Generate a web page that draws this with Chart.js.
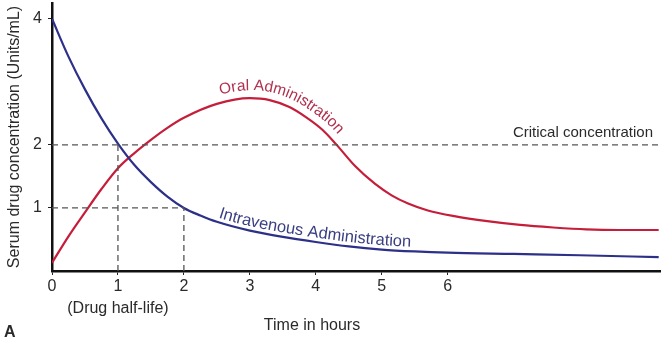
<!DOCTYPE html>
<html>
<head>
<meta charset="utf-8">
<script src="https://cdn.jsdelivr.net/npm/chart.js@4/dist/chart.umd.min.js"></script>
<style>
  html, body { margin: 0; padding: 0; background: #fff; }
  #wrap { width: 667px; height: 359px; }
</style>
</head>
<body>
<div id="wrap"><canvas id="chart" width="667" height="359"></canvas></div>
<script>
// values (hours, Units/mL)
const ivHours   = [0, 0.25, 0.5, 0.75, 1, 1.25, 1.5, 1.75, 2, 2.25, 2.5, 3, 3.5, 4, 4.5, 5, 5.5, 6, 7, 8, 9.2];
const ivValues  = [4, 3.4, 2.88, 2.42, 2.02, 1.68, 1.41, 1.18, 1.0, 0.88, 0.78, 0.64, 0.54, 0.46, 0.39, 0.34, 0.31, 0.29, 0.27, 0.25, 0.22];
const oralHours  = [0, 0.25, 0.5, 0.75, 1, 1.25, 1.5, 1.75, 2, 2.5, 3, 3.3, 3.6, 3.85, 4.1, 4.3, 4.6, 4.9, 5.15, 5.4, 5.7, 6.1, 6.6, 7.1, 7.6, 8.1, 8.6, 9.2];
const oralValues = [0.13, 0.55, 0.93, 1.3, 1.63, 1.87, 2.08, 2.27, 2.43, 2.65, 2.74, 2.71, 2.6, 2.44, 2.24, 2.02, 1.66, 1.38, 1.2, 1.07, 0.96, 0.87, 0.79, 0.73, 0.69, 0.66, 0.65, 0.65];

const xTickValues = [0, 1, 2, 3, 4, 5, 6];
const yTickValues = [1, 2, 4];
const criticalLevel = 2;
const halfLevel = 1;
const halfLifeHours = [1, 2];
const xMax = 9.22;
const yMax = 4.25;

const FONT = '"Liberation Sans", Arial, Helvetica, sans-serif';
const RED = '#c41e3a';
const BLUE = '#2c3088';
const DASH = '#555';

const toPts = (xs, ys) => xs.map((x, i) => ({ x: x, y: ys[i] }));

const refLine = (pts) => ({
  data: pts,
  borderColor: DASH,
  borderWidth: 1.3,
  borderDash: [6, 4],
  pointRadius: 0,
  tension: 0,
  fill: false
});

// sample the drawn bezier of a line dataset, then offset it along its normal
function offsetPath(chart, idx, offset) {
  const pts = chart.getDatasetMeta(idx).data;
  const dense = [];
  for (let i = 0; i < pts.length - 1; i++) {
    const a = pts[i], b = pts[i + 1];
    const c1x = a.cp2x ?? a.x, c1y = a.cp2y ?? a.y;
    const c2x = b.cp1x ?? b.x, c2y = b.cp1y ?? b.y;
    for (let k = 0; k < 12; k++) {
      const t = k / 12, u = 1 - t;
      dense.push({
        x: u*u*u*a.x + 3*u*u*t*c1x + 3*u*t*t*c2x + t*t*t*b.x,
        y: u*u*u*a.y + 3*u*u*t*c1y + 3*u*t*t*c2y + t*t*t*b.y
      });
    }
  }
  dense.push({ x: pts[pts.length - 1].x, y: pts[pts.length - 1].y });
  const out = dense.map((p, i) => {
    const p0 = dense[Math.max(0, i - 2)], p1 = dense[Math.min(dense.length - 1, i + 2)];
    let dx = p1.x - p0.x, dy = p1.y - p0.y;
    const len = Math.hypot(dx, dy) || 1;
    dx /= len; dy /= len;
    return { x: p.x + dy * offset, y: p.y - dx * offset };
  });
  let s = 0;
  out.forEach((p, i) => {
    if (i > 0) s += Math.hypot(p.x - out[i - 1].x, p.y - out[i - 1].y);
    p.s = s;
  });
  return out;
}

function pointAt(path, s) {
  for (let i = 1; i < path.length; i++) {
    if (path[i].s >= s) {
      const a = path[i - 1], b = path[i];
      const t = (s - a.s) / ((b.s - a.s) || 1);
      return { x: a.x + (b.x - a.x) * t, y: a.y + (b.y - a.y) * t, ang: Math.atan2(b.y - a.y, b.x - a.x) };
    }
  }
  const a = path[path.length - 2], b = path[path.length - 1];
  return { x: b.x, y: b.y, ang: Math.atan2(b.y - a.y, b.x - a.x) };
}

function textOnCurve(ctx, path, text, startX, font, color) {
  let s0 = 0;
  for (const p of path) { if (p.x >= startX) { s0 = p.s; break; } }
  ctx.save();
  ctx.font = font;
  ctx.fillStyle = color;
  ctx.textAlign = 'center';
  ctx.textBaseline = 'alphabetic';
  let acc = 0;
  for (const ch of text) {
    const w = ctx.measureText(ch).width;
    const pt = pointAt(path, s0 + acc + w / 2);
    ctx.save();
    ctx.translate(pt.x, pt.y);
    ctx.rotate(pt.ang);
    ctx.fillText(ch, 0, 0);
    ctx.restore();
    acc += w;
  }
  ctx.restore();
}

const annotations = {
  id: 'annotations',
  afterDatasetsDraw(chart) {
    const ctx = chart.ctx;
    const x = chart.scales.x, y = chart.scales.y;

    textOnCurve(ctx, offsetPath(chart, 5, 8), 'Oral Administration', 218, '15.5px ' + FONT, '#b0304f');
    textOnCurve(ctx, offsetPath(chart, 4, 4.5), 'Intravenous Administration', 218, '16.5px ' + FONT, '#3a3f82');

    ctx.save();
    ctx.fillStyle = '#2a2a2a';
    ctx.font = '15px ' + FONT;
    ctx.textAlign = 'right';
    ctx.textBaseline = 'alphabetic';
    ctx.fillText('Critical concentration', 653, y.getPixelForValue(criticalLevel) - 8);

    ctx.font = '16px ' + FONT;
    ctx.textAlign = 'center';
    ctx.fillText('(Drug half-life)', x.getPixelForValue(halfLifeHours[0]), 313);
    ctx.fillText('Time in hours', 312, 330);

    ctx.font = 'bold 16px ' + FONT;
    ctx.textAlign = 'left';
    ctx.fillText('A', 4, 337);

    ctx.font = '16px ' + FONT;
    ctx.translate(19, (chart.chartArea.top + chart.chartArea.bottom) / 2);
    ctx.rotate(-Math.PI / 2);
    ctx.textAlign = 'center';
    ctx.fillText('Serum drug concentration (Units/mL)', 0, 0);
    ctx.restore();
  }
};

new Chart(document.getElementById('chart'), {
  type: 'line',
  data: {
    datasets: [
      refLine([{ x: 0, y: criticalLevel }, { x: xMax, y: criticalLevel }]),
      refLine([{ x: 0, y: halfLevel }, { x: halfLifeHours[1], y: halfLevel }]),
      refLine([{ x: halfLifeHours[0], y: 0 }, { x: halfLifeHours[0], y: criticalLevel }]),
      refLine([{ x: halfLifeHours[1], y: 0 }, { x: halfLifeHours[1], y: halfLevel }]),
      {
        label: 'Intravenous Administration',
        data: toPts(ivHours, ivValues),
        borderColor: BLUE,
        borderWidth: 2.2,
        pointRadius: 0,
        cubicInterpolationMode: 'monotone',
        fill: false
      },
      {
        label: 'Oral Administration',
        data: toPts(oralHours, oralValues),
        borderColor: RED,
        borderWidth: 2.2,
        pointRadius: 0,
        cubicInterpolationMode: 'monotone',
        fill: false
      }
    ]
  },
  options: {
    responsive: false,
    animation: false,
    layout: { padding: { top: 3, right: 7, left: 0, bottom: 0 } },
    plugins: { legend: { display: false }, tooltip: { enabled: false } },
    scales: {
      x: {
        type: 'linear',
        min: 0,
        max: xMax,
        afterBuildTicks: (scale) => { scale.ticks = xTickValues.map(v => ({ value: v })); },
        afterFit: (scale) => { scale.height = 88; scale.paddingLeft = 0; scale.paddingRight = 0; },
        grid: { drawOnChartArea: false, drawTicks: true, tickLength: 4, color: '#222', lineWidth: 1 },
        border: { display: true, color: '#111', width: 2.5 },
        ticks: { color: '#2a2a2a', font: { family: FONT, size: 16 }, padding: 2, maxRotation: 0 }
      },
      y: {
        type: 'linear',
        min: 0,
        max: yMax,
        afterBuildTicks: (scale) => { scale.ticks = yTickValues.map(v => ({ value: v })); },
        afterFit: (scale) => { scale.width = 52; scale.paddingTop = 0; scale.paddingBottom = 0; },
        grid: { drawOnChartArea: false, drawTicks: true, tickLength: 4, color: '#222', lineWidth: 1 },
        border: { display: true, color: '#111', width: 2.5 },
        ticks: { color: '#2a2a2a', font: { family: FONT, size: 16 }, padding: 6 }
      }
    }
  },
  plugins: [annotations]
});
</script>
</body>
</html>
